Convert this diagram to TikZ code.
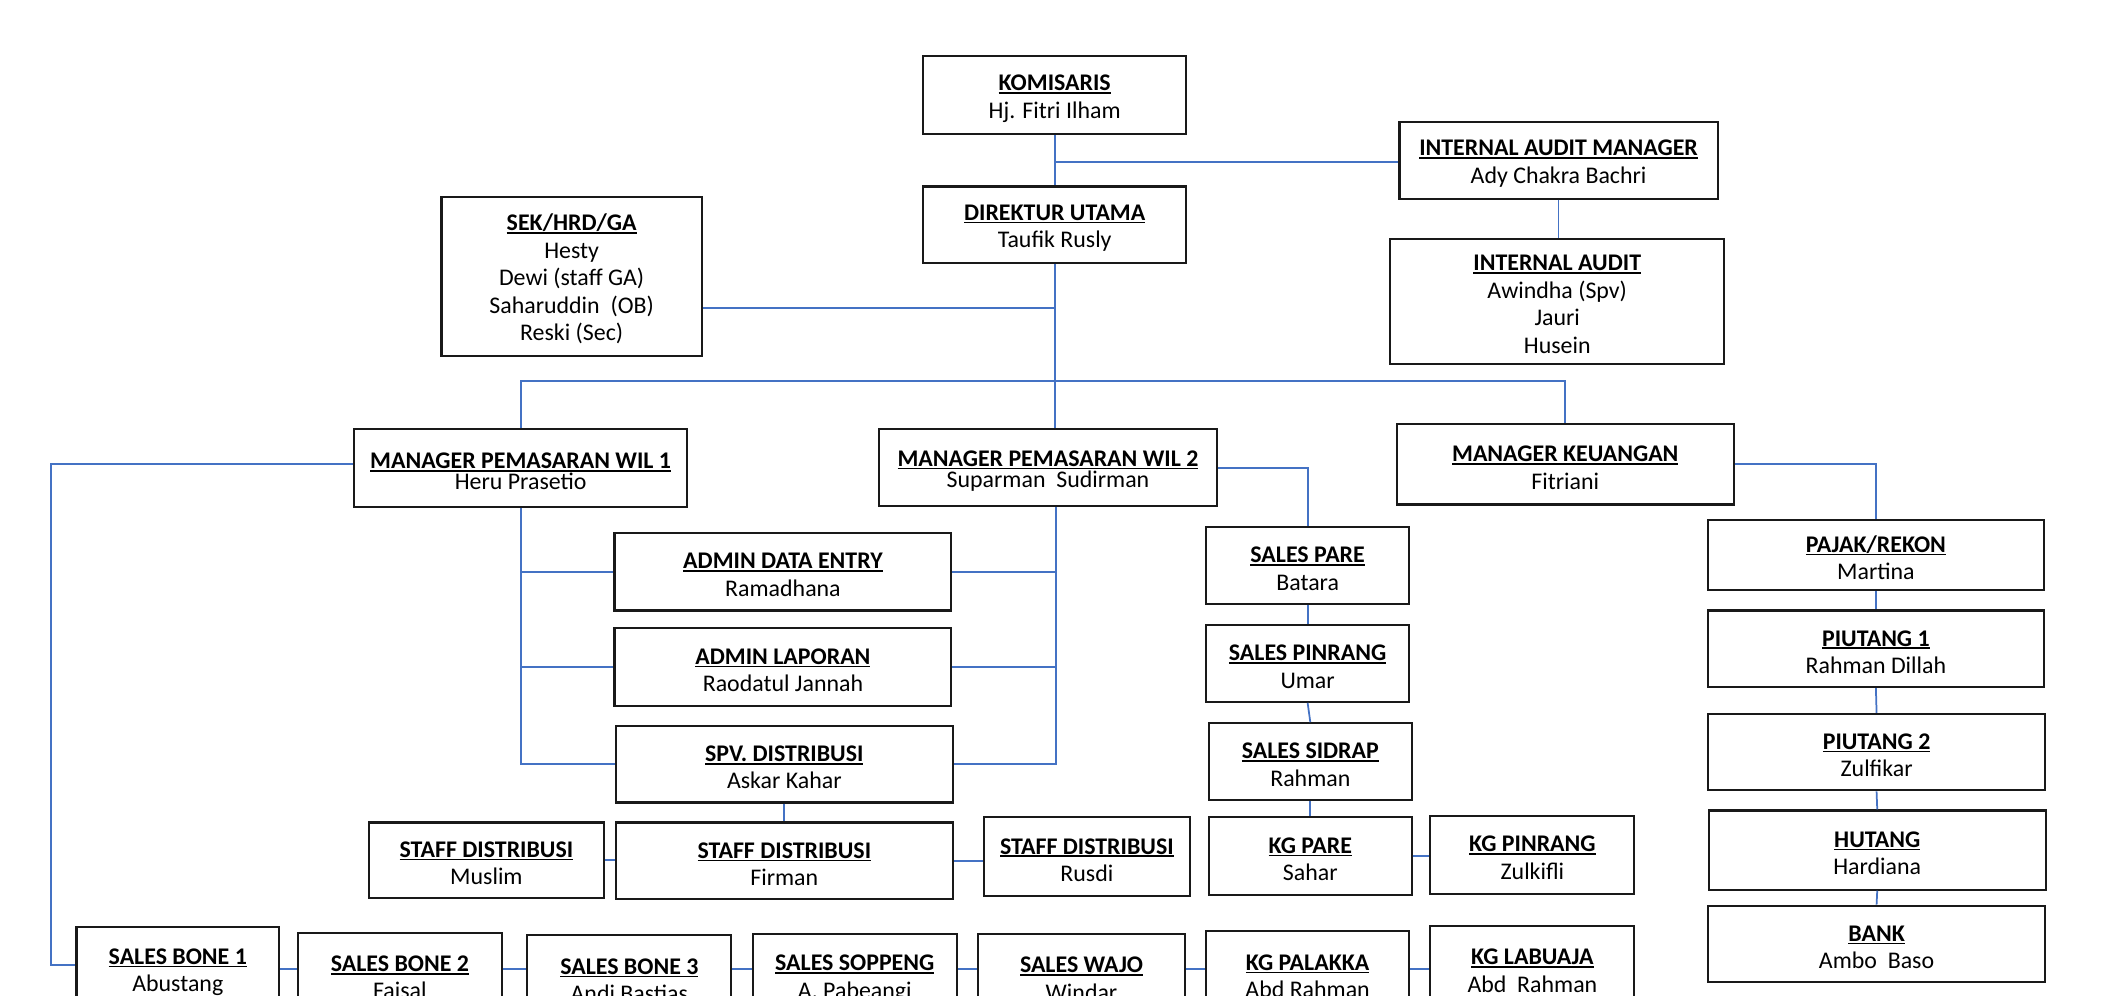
\documentclass[tikz,border=0pt]{standalone}
\usepackage{fontspec}
\setmainfont{Carlito}
\definecolor{lnk}{HTML}{4472C4}
\newcommand\hdr[1]{\setbox0\hbox{\bfseries #1}\leavevmode\rule{0pt}{16.5pt}\rlap{\rule[-2.3pt]{\wd0}{1.2pt}}\box0}
\tikzset{
 box/.style={draw=black!90, line width=1.6pt, inner sep=0pt, align=center, font=\fontsize{17.8}{20.5}\selectfont},
 conn/.style={draw=lnk, line width=1.3pt},
}
\begin{document}
\begin{tikzpicture}[x=1pt,y=-1pt]
\useasboundingbox (0,0) rectangle (1568,742);
\clip (0,0) rectangle (1568,742);
% top
\node[box, minimum width=196pt, minimum height=58pt] (kom) at (786,71) {\hdr{KOMISARIS}\\Hj. Fitri Ilham};
\node[box, minimum width=196pt, minimum height=57pt] (dir) at (786,167.5) {\hdr{DIREKTUR UTAMA}\\Taufik Rusly};
\node[box, minimum width=237pt, minimum height=57pt] (iam) at (1161.5,119.5) {\hdr{INTERNAL AUDIT MANAGER}\\Ady Chakra Bachri};
\node[box, minimum width=249pt, minimum height=93pt] (ia) at (1160.5,224.5) {\hdr{INTERNAL AUDIT}\\Awindha (Spv)\\Jauri\\Husein};
\node[box, minimum width=194pt, minimum height=118pt] (sek) at (426,206) {\hdr{SEK/HRD/GA}\\Hesty\\Dewi (staff GA)\\Saharuddin\ \ (OB)\\Reski (Sec)};
% managers
\node[box, minimum width=248pt, minimum height=58pt] (mp1) at (388,349) {\hdr{MANAGER PEMASARAN WIL 1}\\[-5pt]Heru Prasetio};
\node[box, minimum width=252pt, minimum height=57pt] (mp2) at (781,348.5) {\hdr{MANAGER PEMASARAN WIL 2}\\[-5pt]Suparman\ \ Sudirman};
\node[box, minimum width=251pt, minimum height=60pt] (mk) at (1166.5,346) {\hdr{MANAGER KEUANGAN}\\Fitriani};
% middle left
\node[box, minimum width=251pt, minimum height=58pt] (ade) at (583.5,426) {\hdr{ADMIN DATA ENTRY}\\Ramadhana};
\node[box, minimum width=251pt, minimum height=58pt] (al) at (583.5,497) {\hdr{ADMIN LAPORAN}\\Raodatul Jannah};
\node[box, minimum width=251pt, minimum height=57pt] (spv) at (584.5,569.5) {\hdr{SPV. DISTRIBUSI}\\Askar Kahar};
\node[box, minimum width=251pt, minimum height=57pt] (sdf) at (584.5,641.5) {\hdr{STAFF DISTRIBUSI}\\Firman};
\node[box, minimum width=175pt, minimum height=56pt] (sdm) at (362.5,641) {\hdr{STAFF DISTRIBUSI}\\Muslim};
\node[box, minimum width=154pt, minimum height=59pt] (sdr) at (810,638.5) {\hdr{STAFF DISTRIBUSI}\\Rusdi};
% sales column
\node[box, minimum width=151pt, minimum height=57pt] (spare) at (974.5,421.5) {\hdr{SALES PARE}\\Batara};
\node[box, minimum width=151pt, minimum height=57pt] (spin) at (974.5,494.5) {\hdr{SALES PINRANG}\\Umar};
\node[box, minimum width=151pt, minimum height=57pt] (ssid) at (976.5,567.5) {\hdr{SALES SIDRAP}\\Rahman};
\node[box, minimum width=151pt, minimum height=58pt] (kgpare) at (976.5,638) {\hdr{KG PARE}\\Sahar};
\node[box, minimum width=152pt, minimum height=58pt] (kgpin) at (1142,637) {\hdr{KG PINRANG}\\Zulkifli};
% finance column
\node[box, minimum width=250pt, minimum height=52pt] (pajak) at (1398,413.5) {\hdr{PAJAK/REKON}\\Martina};
\node[box, minimum width=250pt, minimum height=57pt] (piu1) at (1398,483.5) {\hdr{PIUTANG 1}\\Rahman Dillah};
\node[box, minimum width=251pt, minimum height=57pt] (piu2) at (1398.5,560.5) {\hdr{PIUTANG 2}\\Zulfikar};
\node[box, minimum width=251pt, minimum height=59pt] (hut) at (1399,633.5) {\hdr{HUTANG}\\Hardiana};
\node[box, minimum width=251pt, minimum height=57pt] (bank) at (1398.5,703.5) {\hdr{BANK}\\Ambo\ \ Baso};
% bottom row
\node[box, minimum width=151pt, minimum height=62pt] (b1) at (132.5,722) {\hdr{SALES BONE 1}\\Abustang};
\node[box, minimum width=152pt, minimum height=62pt] (b2) at (298,726) {\hdr{SALES BONE 2}\\Faisal};
\node[box, minimum width=152pt, minimum height=62pt] (b3) at (469,728) {\hdr{SALES BONE 3}\\Andi Bastias};
\node[box, minimum width=152pt, minimum height=62pt] (sop) at (637,727) {\hdr{SALES SOPPENG}\\A. Pabeangi};
\node[box, minimum width=154pt, minimum height=62pt] (wajo) at (806,727) {\hdr{SALES WAJO}\\Windar};
\node[box, minimum width=151pt, minimum height=62pt] (pal) at (974.5,725) {\hdr{KG PALAKKA}\\Abd Rahman};
\node[box, minimum width=152pt, minimum height=62pt] (lab) at (1142,721) {\hdr{KG LABUAJA}\\Abd\ \ Rahman};
% junction coordinates
\coordinate (j1) at (786,120.5);
\coordinate (j2) at (786,229.5);
\coordinate (hub) at (786,284);
\coordinate (L) at (38,346);
\coordinate (Lb) at (38,719);
\coordinate (v2) at (787,378);
\coordinate (r) at (0,722);
% connectors
\draw[conn] (kom.south) -- (dir.north);
\draw[conn] (j1) -- (j1 -| iam.west);
\draw[conn] (iam.south) -- (iam.south |- ia.north);
\draw[conn] (dir.south) -- (hub);
\draw[conn] (j2 -| sek.east) -- (j2);
\draw[conn] (mp1.north) -- (mp1.north |- hub) -- (mk.north |- hub) -- (mk.north);
\draw[conn] (hub) -- (hub |- mp2.north);
\draw[conn] (mp1.west |- L) -- (L) -- (Lb) -- (Lb -| b1.west);
\draw[conn] (mp1.south) |- (spv.west);
\draw[conn] (mp1.south |- ade.west) -- (ade.west);
\draw[conn] (mp1.south |- al.west) -- (al.west);
\draw[conn] (v2) |- (spv.east);
\draw[conn] (ade.east) -- (ade.east -| v2);
\draw[conn] (al.east) -- (al.east -| v2);
\draw[conn] (spv.south) -- (sdf.north);
\draw[conn] (sdm.east) -- (sdm.east -| sdf.west);
\draw[conn] (sdf.east) -- (sdf.east -| sdr.west);
\draw[conn] (mp2.east) -| (spare.north);
\draw[conn] (spare.south) -- (spin.north);
\draw[conn] (spin.south) -- (ssid.north);
\draw[conn] (ssid.south) -- (kgpare.north);
\draw[conn] (kgpare.east) -- (kgpare.east -| kgpin.west);
\draw[conn] (mk.east) -| (pajak.north);
\draw[conn] (pajak.south) -- (piu1.north);
\draw[conn] (piu1.south) -- (piu2.north);
\draw[conn] (piu2.south) -- (hut.north);
\draw[conn] (hut.south) -- (bank.north);
\draw[conn] (b1.east |- r) -- (b2.west |- r);
\draw[conn] (b2.east |- r) -- (b3.west |- r);
\draw[conn] (b3.east |- r) -- (sop.west |- r);
\draw[conn] (sop.east |- r) -- (wajo.west |- r);
\draw[conn] (wajo.east |- r) -- (pal.west |- r);
\draw[conn] (pal.east |- r) -- (lab.west |- r);
\end{tikzpicture}
\end{document}
